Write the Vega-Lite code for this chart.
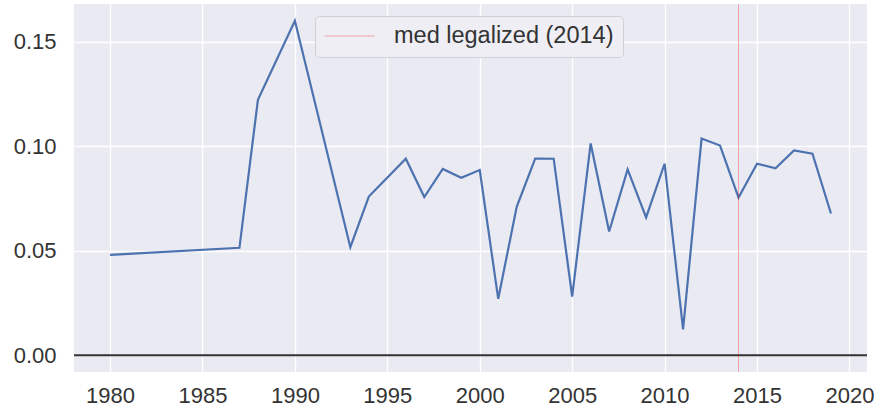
{
  "$schema": "https://vega.github.io/schema/vega-lite/v6.json",
  "autosize": {"type": "none"},
  "padding": {"left": 74, "top": 4, "right": 10, "bottom": 36},
  "width": 793,
  "height": 368,
  "background": "white",
  "datasets": {
    "series": [
      {"year": 1980, "rate": 0.048},
      {"year": 1987, "rate": 0.0514},
      {"year": 1988, "rate": 0.1222},
      {"year": 1990, "rate": 0.160},
      {"year": 1993, "rate": 0.0517},
      {"year": 1994, "rate": 0.0759},
      {"year": 1996, "rate": 0.094},
      {"year": 1997, "rate": 0.0757},
      {"year": 1998, "rate": 0.0891},
      {"year": 1999, "rate": 0.0849},
      {"year": 2000, "rate": 0.0886},
      {"year": 2001, "rate": 0.027},
      {"year": 2002, "rate": 0.071},
      {"year": 2003, "rate": 0.0941},
      {"year": 2004, "rate": 0.094},
      {"year": 2005, "rate": 0.0281},
      {"year": 2006, "rate": 0.1013},
      {"year": 2007, "rate": 0.0592},
      {"year": 2008, "rate": 0.0889},
      {"year": 2009, "rate": 0.0659},
      {"year": 2010, "rate": 0.0916},
      {"year": 2011, "rate": 0.0124},
      {"year": 2012, "rate": 0.1037},
      {"year": 2013, "rate": 0.1003},
      {"year": 2014, "rate": 0.0754},
      {"year": 2015, "rate": 0.0916},
      {"year": 2016, "rate": 0.0894},
      {"year": 2017, "rate": 0.098},
      {"year": 2018, "rate": 0.0964},
      {"year": 2019, "rate": 0.0678}
    ],
    "zero": [{"level": 0}],
    "legal": [{"year": 2014, "label": "med legalized (2014)"}]
  },
  "layer": [
    {
      "data": {"name": "zero"},
      "mark": {"type": "rule", "color": "#333333", "strokeWidth": 2},
      "encoding": {
        "y": {"field": "level", "type": "quantitative"}
      }
    },
    {
      "data": {"name": "series"},
      "mark": {"type": "line", "color": "#4C72B0", "strokeWidth": 2.2},
      "encoding": {
        "x": {
          "field": "year", "type": "quantitative",
          "scale": {"domain": [1978.05, 2020.95], "nice": false, "zero": false},
          "axis": {"values": [1980, 1985, 1990, 1995, 2000, 2005, 2010, 2015, 2020], "format": "d", "title": null, "labelPadding": 13}
        },
        "y": {
          "field": "rate", "type": "quantitative",
          "scale": {"domain": [-0.008, 0.168], "nice": false, "zero": false},
          "axis": {"values": [0, 0.05, 0.1, 0.15], "format": ".2f", "title": null, "labelPadding": 18}
        }
      }
    },
    {
      "data": {"name": "legal"},
      "mark": {"type": "rule", "strokeWidth": 1, "opacity": 0.3},
      "encoding": {
        "x": {"field": "year", "type": "quantitative"},
        "color": {
          "field": "label", "type": "nominal",
          "scale": {"range": ["#FF0000"]},
          "legend": {
            "title": null,
            "orient": "none",
            "legendX": 241,
            "legendY": 12,
            "symbolType": "stroke",
            "symbolStrokeWidth": 1,
            "symbolOpacity": 0.3,
            "symbolSize": 2500,
            "clipHeight": 22,
            "labelOffset": 19,
            "labelLimit": 400,
            "padding": 9,
            "fillColor": "#EEEEF4",
            "strokeColor": "#D0D0D8",
            "cornerRadius": 4
          }
        }
      }
    }
  ],
  "config": {
    "view": {"fill": "#EAEAF2", "stroke": null},
    "axis": {
      "domain": false,
      "ticks": false,
      "grid": true,
      "gridColor": "#FFFFFF",
      "gridWidth": 1.3,
      "labelFont": "Liberation Sans",
      "labelFontSize": 22,
      "labelColor": "#333333"
    },
    "legend": {
      "labelFont": "Liberation Sans",
      "labelFontSize": 23.5,
      "labelColor": "#333333"
    }
  }
}
